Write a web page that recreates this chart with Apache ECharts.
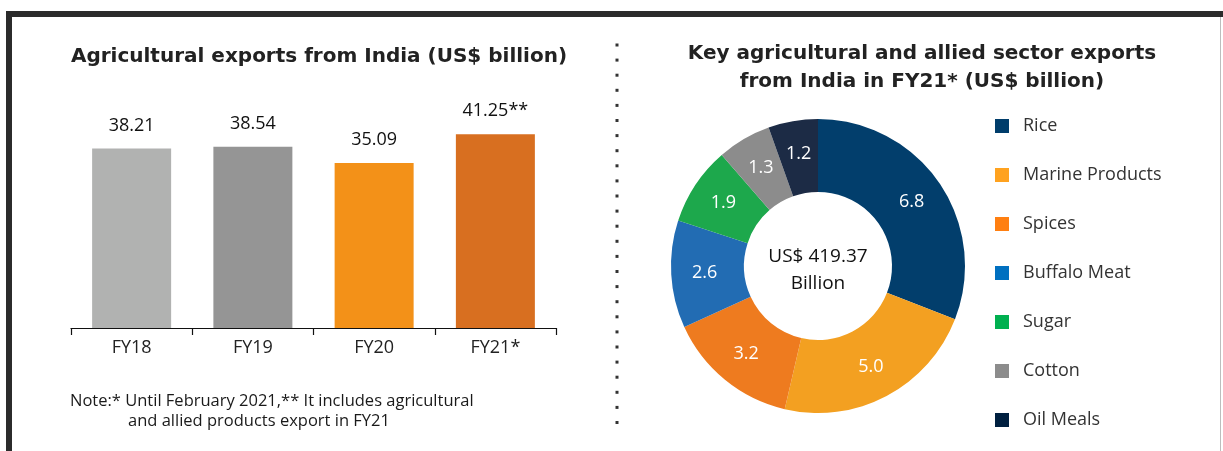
<!DOCTYPE html>
<html><head><meta charset="utf-8">
<script src="https://cdn.jsdelivr.net/npm/echarts@6/dist/echarts.min.js"></script>
<style>html,body{margin:0;padding:0;background:#fff}#c{width:1223px;height:451px}</style>
</head><body><div id="c"></div>
<script>
const years = ['FY18','FY19','FY20','FY21*'];
const exportsVal = [38.21, 38.54, 35.09, 41.25];
const barLabels = ['38.21','38.54','35.09','41.25**'];
const barColors = ['#b1b2b1','#959595','#f39118','#d86f20'];

const sectors = ['Rice','Marine Products','Spices','Buffalo Meat','Sugar','Cotton','Oil Meals'];
const sectorVal = [6.8, 5.0, 3.2, 2.6, 1.9, 1.3, 1.2];
const sectorColors = ['#023e6c','#f3a021','#ee7b1f','#226cb3','#1da84c','#8c8c8c','#1c2b45'];
const legendColors = ['#003d6b','#ffa21f','#ff7f11','#0070c0','#00b050','#8c8c8c','#002040'];
const centerText = 'US$ 419.37\nBillion';

const FONT = 'Open Sans';
const BFONT = 'DejaVu Sans';
const chart = echarts.init(document.getElementById('c'));

const graphics = [
  {type:'rect', shape:{x:6,y:11,width:1217,height:6}, style:{fill:'#2b2b2b'}},
  {type:'rect', shape:{x:6,y:11,width:6,height:440}, style:{fill:'#2b2b2b'}},
  {type:'rect', shape:{x:1220,y:17,width:1,height:434}, style:{fill:'#bdbdbd'}},
  {type:'text', x:70, y:401, style:{text:'Note:* Until February 2021,** It includes agricultural', font:'16.5px "'+FONT+'"', fill:'#1a1a1a', verticalAlign:'middle'}},
  {type:'text', x:128, y:421, style:{text:'and allied products export in FY21', font:'16.5px "'+FONT+'"', fill:'#1a1a1a', verticalAlign:'middle'}},
  {type:'text', x:818, y:270, z:10, style:{text:centerText, font:'19px "'+FONT+'"', fill:'#111', align:'center', verticalAlign:'middle', lineHeight:27}}
];
for (let i = 0; i < 26; i++) {
  graphics.push({type:'rect', shape:{x:615.5,y:43.5+i*15.1,width:3,height:3}, style:{fill:'#333'}});
}

chart.setOption({
  animation:false,
  title:[
    {text:'Agricultural exports from India (US$ billion)', left:314, top:42, textAlign:'center',
     textStyle:{fontFamily:BFONT, fontWeight:'bold', fontSize:20, color:'#222'}},
    {text:'Key agricultural and allied sector exports\nfrom India in FY21* (US$ billion)', left:917, top:35, textAlign:'center',
     textStyle:{fontFamily:BFONT, fontWeight:'bold', fontSize:20, color:'#222', lineHeight:28}}
  ],
  graphic: graphics,
  grid:{left:71, right:1223-556, top:93, bottom:123},
  xAxis:{type:'category', data:years,
    axisLine:{lineStyle:{color:'#111', width:1.2}},
    axisTick:{show:true, length:7, lineStyle:{color:'#111', width:1.2}},
    axisLabel:{fontFamily:FONT, fontSize:18, color:'#222', margin:11}},
  yAxis:{type:'value', min:0, max:50, show:false, splitLine:{show:false}},
  series:[
    {type:'bar', barWidth:79,
     data: exportsVal.map((v,i)=>({value:v, itemStyle:{color:barColors[i]},
        label:{formatter: barLabels[i]}})),
     label:{show:true, position:'top', distance:14, fontFamily:FONT, fontSize:18, color:'#111'}},
    {type:'pie', center:[818,266], radius:[74,147], startAngle:90, clockwise:true,
     data: sectors.map((n,i)=>({name:n, value:sectorVal[i], itemStyle:{color:sectorColors[i]}})),
     label:{show:true, position:'inside', formatter:(p)=>p.value.toFixed(1), fontFamily:FONT, fontSize:18, color:'#fff'},
     labelLine:{show:false}, silent:true}
  ],
  legend:{orient:'vertical', left:990, top:111, height:335, itemGap:29, itemWidth:14, itemHeight:14, icon:'rect',
    data: sectors.map((n,i)=>({name:n, itemStyle:{color:legendColors[i]}})),
    textStyle:{fontFamily:FONT, fontSize:18, lineHeight:20, color:'#333', padding:[0,0,0,9]}}
});
</script>
</body></html>
